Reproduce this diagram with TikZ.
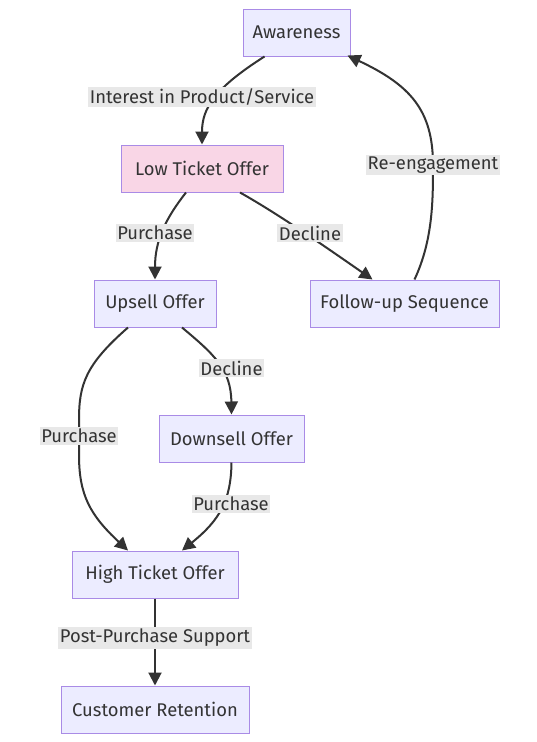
\documentclass[tikz,border=0pt]{standalone}
\usepackage{fontspec}
\setmainfont{Fira Sans}
\usetikzlibrary{arrows.meta,calc}
\definecolor{nodefill}{HTML}{ECECFF}
\definecolor{nodeborder}{HTML}{A98BE6}
\definecolor{pinkfill}{HTML}{F9D6E6}
\definecolor{edgecol}{HTML}{333333}
\definecolor{lblfill}{HTML}{E8E8E8}
\begin{document}
\begin{tikzpicture}[x=1pt,y=-1pt,
  box/.style={draw=nodeborder,fill=nodefill,line width=1pt,minimum height=47pt,inner xsep=8pt,text=edgecol,font=\fontsize{18.4}{21}\selectfont},
  lbl/.style={fill=lblfill,inner xsep=1.5pt,inner ysep=2pt,text=edgecol,font=\fontsize{18.4}{21}\selectfont},
  conn/.style={draw=edgecol,line width=2pt,-{Triangle[length=13pt,width=13pt]}}]
\useasboundingbox (0,0) rectangle (537,742);
\fill[white] (0,0) rectangle (537,742);
% nodes
\node[box,minimum width=107pt] (aw) at (296.5,32.5) {Awareness};
\node[box,minimum width=162pt,fill=pinkfill] (lto) at (202,168.5) {Low Ticket Offer};
\node[box,minimum width=122pt] (up) at (155,303.5) {Upsell Offer};
\node[box,minimum width=189pt] (fu) at (404.5,303.5) {Follow-up Sequence};
\node[box,minimum width=145pt] (down) at (231.5,438.5) {Downsell Offer};
\node[box,minimum width=166pt] (hto) at (155,574.5) {High Ticket Offer};
\node[box,minimum width=188pt] (cr) at (155,709.5) {Customer Retention};
% connectors
\draw[conn] ($(aw.south)+(-32,0)$) .. controls (215,88) and (202,108) .. (lto.north);
\draw[conn] ($(lto.south)+(-16,0)$) .. controls (166,218) and (155,240) .. (up.north);
\draw[conn] ($(lto.south)+(38,0)$) .. controls (280,215) and (330,250) .. ($(fu.north)+(-32,0)$);
\draw[conn] ($(fu.north)+(10,0)$) .. controls (433,240) and (433,200) .. (433,165) .. controls (433,110) and (410,85) .. ($(aw.north east)+(-3,47)$);
\draw[conn] ($(up.south)+(27,0)$) .. controls (215,355) and (231,370) .. (down.north);
\draw[conn] ($(up.south)+(-27,0)$) .. controls (85,365) and (79,385) .. (79,420) -- (79,455) .. controls (79,495) and (90,515) .. ($(hto.north)+(-27,0)$);
\draw[conn] (down.south) .. controls (231,500) and (220,520) .. ($(hto.north)+(27,0)$);
\draw[conn] (hto.south) -- (cr.north);
% labels
\node[lbl] (l1) at (202,97) {Interest in Product/Service};
\node[lbl] (l2) at (155,233) {Purchase};
\node[lbl] (l3) at (310,233) {Decline};
\node[lbl] (l4) at (433,165) {Re-engagement};
\node[lbl] (l5) at (231.5,368) {Decline};
\node[lbl] (l6) at (79,436) {Purchase};
\node[lbl] (l7) at (231,504) {Purchase};
\node[lbl] (l8) at (155,638) {Post-Purchase Support};
\end{tikzpicture}
\end{document}
